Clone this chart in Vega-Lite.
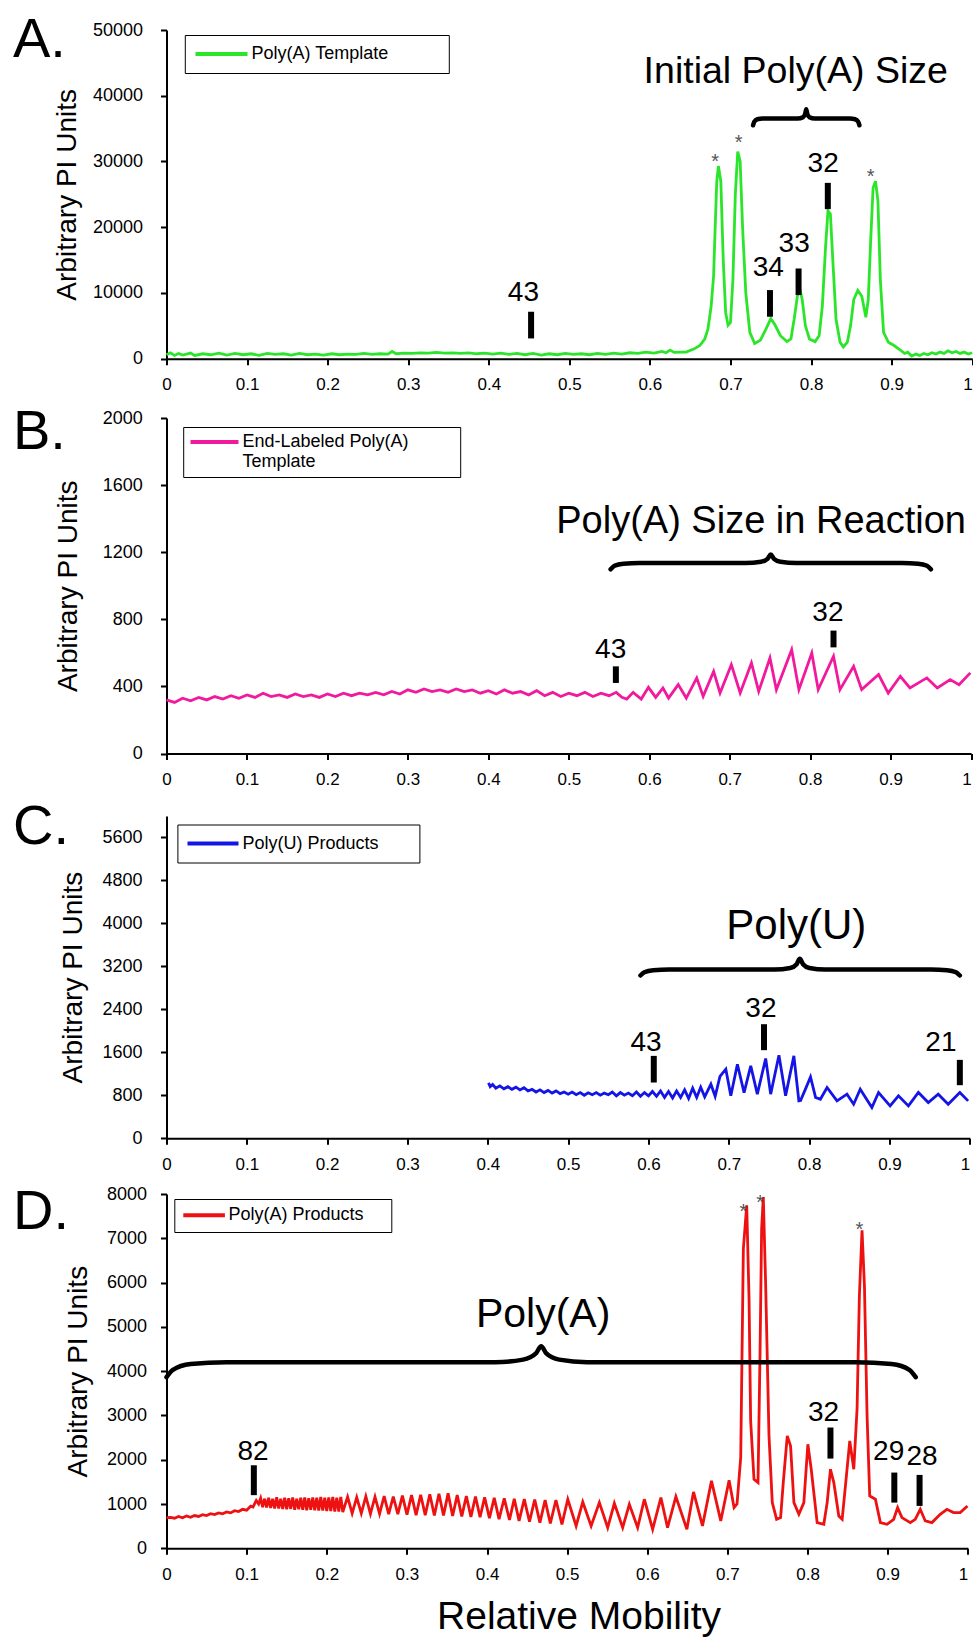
{
  "$schema": "https://vega.github.io/schema/vega-lite/v6.json",
  "padding": {"left": 12.5, "top": 11, "right": 0, "bottom": 0},
  "spacing": 10,
  "columns": 1,
  "align": "none",
  "resolve": {"scale": {"color": "independent"}, "legend": {"color": "independent"}},
  "config": {
    "font": "Liberation Sans",
    "view": {"stroke": null},
    "axis": {"grid": false, "domainColor": "#000", "tickColor": "#000", "domainWidth": 2, "tickWidth": 2, "tickSize": 6, "labelColor": "#000", "titleColor": "#000", "labelFont": "Liberation Sans", "titleFont": "Liberation Sans", "labelOverlap": false},
    "axisX": {"labelAlign": {"condition": {"test": "datum.value === 1", "value": "right"}, "value": "center"}},
    "legend": {"labelFont": "Liberation Sans", "labelColor": "#000"}
  },
  "datasets": {
    "traceA": [
      {"x":0,"y":600},{"x":0.005,"y":900},{"x":0.01,"y":500},{"x":0.015,"y":800},{"x":0.02,"y":550},{"x":0.03,"y":850},{"x":0.035,"y":500},{"x":0.045,"y":750},{"x":0.055,"y":600},{"x":0.065,"y":850},{"x":0.075,"y":550},{"x":0.085,"y":800},{"x":0.095,"y":600},{"x":0.105,"y":750},{"x":0.115,"y":500},{"x":0.125,"y":800},{"x":0.135,"y":650},{"x":0.145,"y":750},{"x":0.155,"y":550},{"x":0.165,"y":800},{"x":0.175,"y":600},{"x":0.185,"y":700},{"x":0.195,"y":550},{"x":0.205,"y":750},{"x":0.215,"y":600},{"x":0.225,"y":700},{"x":0.235,"y":650},{"x":0.245,"y":800},{"x":0.255,"y":650},{"x":0.265,"y":750},{"x":0.275,"y":700},{"x":0.28,"y":1100},{"x":0.285,"y":750},{"x":0.295,"y":850},{"x":0.305,"y":800},{"x":0.315,"y":900},{"x":0.325,"y":850},{"x":0.335,"y":950},{"x":0.345,"y":850},{"x":0.355,"y":900},{"x":0.365,"y":800},{"x":0.375,"y":900},{"x":0.385,"y":750},{"x":0.395,"y":850},{"x":0.405,"y":700},{"x":0.415,"y":850},{"x":0.425,"y":650},{"x":0.435,"y":800},{"x":0.445,"y":600},{"x":0.455,"y":800},{"x":0.465,"y":550},{"x":0.475,"y":750},{"x":0.485,"y":600},{"x":0.495,"y":800},{"x":0.505,"y":650},{"x":0.515,"y":750},{"x":0.525,"y":600},{"x":0.535,"y":800},{"x":0.545,"y":650},{"x":0.555,"y":850},{"x":0.565,"y":700},{"x":0.575,"y":900},{"x":0.585,"y":800},{"x":0.595,"y":1000},{"x":0.605,"y":850},{"x":0.615,"y":1100},{"x":0.62,"y":900},{"x":0.625,"y":1300},{"x":0.63,"y":950},{"x":0.64,"y":1000},{"x":0.645,"y":1000},{"x":0.655,"y":1500},{"x":0.662,"y":2000},{"x":0.668,"y":3000},{"x":0.672,"y":4500},{"x":0.676,"y":8000},{"x":0.679,"y":12500},{"x":0.681,"y":20000},{"x":0.683,"y":27000},{"x":0.685,"y":29300},{"x":0.688,"y":27000},{"x":0.691,"y":15000},{"x":0.694,"y":7000},{"x":0.697,"y":5100},{"x":0.7,"y":5500},{"x":0.703,"y":12000},{"x":0.706,"y":25000},{"x":0.709,"y":31500},{"x":0.712,"y":30000},{"x":0.715,"y":20000},{"x":0.719,"y":10000},{"x":0.724,"y":4000},{"x":0.73,"y":2300},{"x":0.737,"y":2800},{"x":0.744,"y":4500},{"x":0.75,"y":6100},{"x":0.755,"y":5200},{"x":0.762,"y":3500},{"x":0.77,"y":2600},{"x":0.775,"y":3000},{"x":0.779,"y":6000},{"x":0.783,"y":9500},{"x":0.786,"y":10600},{"x":0.789,"y":9000},{"x":0.793,"y":5000},{"x":0.798,"y":3000},{"x":0.805,"y":2600},{"x":0.81,"y":3500},{"x":0.814,"y":8000},{"x":0.818,"y":17000},{"x":0.821,"y":22500},{"x":0.824,"y":22000},{"x":0.827,"y":15000},{"x":0.831,"y":6000},{"x":0.836,"y":2500},{"x":0.84,"y":1800},{"x":0.845,"y":2500},{"x":0.849,"y":5000},{"x":0.853,"y":9000},{"x":0.858,"y":10400},{"x":0.863,"y":9500},{"x":0.868,"y":6300},{"x":0.871,"y":9000},{"x":0.874,"y":18000},{"x":0.877,"y":26000},{"x":0.88,"y":27000},{"x":0.883,"y":24000},{"x":0.886,"y":12000},{"x":0.89,"y":4000},{"x":0.896,"y":2500},{"x":0.903,"y":2000},{"x":0.91,"y":1400},{"x":0.916,"y":800},{"x":0.92,"y":1000},{"x":0.925,"y":400},{"x":0.93,"y":700},{"x":0.935,"y":500},{"x":0.94,"y":800},{"x":0.945,"y":600},{"x":0.95,"y":900},{"x":0.955,"y":700},{"x":0.96,"y":1000},{"x":0.965,"y":800},{"x":0.97,"y":1200},{"x":0.975,"y":900},{"x":0.98,"y":1100},{"x":0.985,"y":800},{"x":0.99,"y":1000},{"x":0.995,"y":700},{"x":1,"y":900}
    ],
    "ruleA": [{"x":0.4525,"y":3085,"y2":7143},{"x":0.749,"y":6383,"y2":10440},{"x":0.7845,"y":9681,"y2":13723},{"x":0.8208,"y":22750,"y2":26748}],
    "lblA": [{"x":0.443,"y":9924,"t":"43"},{"x":0.747,"y":13860,"t":"34"},{"x":0.779,"y":17520,"t":"33"},{"x":0.815,"y":29680,"t":"32"}],
    "starA": [{"x":0.681,"y":30850},{"x":0.71,"y":33740},{"x":0.874,"y":28520}],
    "braceA": [{"x":0.728,"y":35510},{"x":0.7296,"y":36065},{"x":0.7333,"y":36420},{"x":0.7399,"y":36520},{"x":0.7834,"y":36520},{"x":0.79,"y":36735},{"x":0.7927,"y":37235},{"x":0.794,"y":37950},{"x":0.7953,"y":37235},{"x":0.798,"y":36735},{"x":0.8046,"y":36520},{"x":0.8481,"y":36520},{"x":0.8547,"y":36420},{"x":0.8584,"y":36065},{"x":0.86,"y":35510}],
    "capA": [{"x":0.781,"y":41945,"t":"Initial Poly(A) Size"}],
    "letA": [{"x":-0.19052,"y":45900,"t":"A."}],
    "traceB": [
      {"x":0,"y":320},{"x":0.01,"y":305},{"x":0.02,"y":330},{"x":0.03,"y":315},{"x":0.04,"y":335},{"x":0.05,"y":320},{"x":0.06,"y":340},{"x":0.07,"y":325},{"x":0.08,"y":345},{"x":0.09,"y":330},{"x":0.1,"y":350},{"x":0.11,"y":335},{"x":0.12,"y":360},{"x":0.13,"y":340},{"x":0.14,"y":350},{"x":0.15,"y":335},{"x":0.16,"y":355},{"x":0.17,"y":340},{"x":0.18,"y":350},{"x":0.19,"y":335},{"x":0.2,"y":355},{"x":0.21,"y":340},{"x":0.22,"y":360},{"x":0.23,"y":345},{"x":0.24,"y":360},{"x":0.25,"y":350},{"x":0.26,"y":365},{"x":0.27,"y":350},{"x":0.28,"y":370},{"x":0.29,"y":355},{"x":0.3,"y":380},{"x":0.31,"y":365},{"x":0.32,"y":385},{"x":0.33,"y":370},{"x":0.34,"y":380},{"x":0.35,"y":365},{"x":0.36,"y":385},{"x":0.37,"y":370},{"x":0.38,"y":380},{"x":0.39,"y":360},{"x":0.4,"y":375},{"x":0.41,"y":355},{"x":0.42,"y":380},{"x":0.43,"y":360},{"x":0.44,"y":370},{"x":0.45,"y":350},{"x":0.46,"y":375},{"x":0.47,"y":345},{"x":0.48,"y":365},{"x":0.49,"y":340},{"x":0.5,"y":360},{"x":0.51,"y":345},{"x":0.52,"y":365},{"x":0.53,"y":340},{"x":0.54,"y":360},{"x":0.55,"y":345},{"x":0.559,"y":365},{"x":0.566,"y":335},{"x":0.572,"y":325},{"x":0.58,"y":365},{"x":0.59,"y":325},{"x":0.599,"y":395},{"x":0.608,"y":335},{"x":0.617,"y":391},{"x":0.624,"y":331},{"x":0.636,"y":411},{"x":0.646,"y":331},{"x":0.659,"y":451},{"x":0.667,"y":341},{"x":0.68,"y":490},{"x":0.688,"y":361},{"x":0.702,"y":530},{"x":0.713,"y":361},{"x":0.727,"y":540},{"x":0.736,"y":371},{"x":0.75,"y":570},{"x":0.758,"y":381},{"x":0.777,"y":619},{"x":0.786,"y":381},{"x":0.802,"y":599},{"x":0.81,"y":381},{"x":0.829,"y":580},{"x":0.837,"y":381},{"x":0.854,"y":520},{"x":0.864,"y":381},{"x":0.885,"y":471},{"x":0.897,"y":361},{"x":0.912,"y":461},{"x":0.924,"y":391},{"x":0.945,"y":451},{"x":0.958,"y":391},{"x":0.974,"y":441},{"x":0.985,"y":411},{"x":0.999,"y":481}
    ],
    "ruleB": [{"x":0.5585,"y":421,"y2":520},{"x":0.829,"y":633,"y2":733}],
    "lblB": [{"x":0.552,"y":620,"t":"43"},{"x":0.822,"y":838,"t":"32"}],
    "braceB": [{"x":0.552,"y":1098},{"x":0.5568,"y":1119},{"x":0.5679,"y":1132},{"x":0.5878,"y":1136},{"x":0.7192,"y":1136},{"x":0.7391,"y":1143.5},{"x":0.747,"y":1161},{"x":0.751,"y":1186},{"x":0.755,"y":1161},{"x":0.7629,"y":1143.5},{"x":0.7828,"y":1136},{"x":0.9142,"y":1136},{"x":0.9341,"y":1132},{"x":0.9452,"y":1119},{"x":0.95,"y":1098}],
    "capB": [{"x":0.739,"y":1315,"t":"Poly(A) Size in Reaction"}],
    "letB": [{"x":-0.19078,"y":1816,"t":"B."}],
    "traceC": [
      {"x":0.4008,"y":1030},{"x":0.403,"y":960},{"x":0.406,"y":1000},{"x":0.41,"y":930},{"x":0.415,"y":975},{"x":0.42,"y":920},{"x":0.425,"y":960},{"x":0.43,"y":910},{"x":0.435,"y":950},{"x":0.44,"y":900},{"x":0.445,"y":940},{"x":0.45,"y":880},{"x":0.455,"y":910},{"x":0.46,"y":860},{"x":0.465,"y":900},{"x":0.47,"y":850},{"x":0.475,"y":890},{"x":0.48,"y":840},{"x":0.485,"y":880},{"x":0.49,"y":830},{"x":0.495,"y":860},{"x":0.5,"y":820},{"x":0.505,"y":860},{"x":0.51,"y":810},{"x":0.515,"y":850},{"x":0.52,"y":800},{"x":0.525,"y":845},{"x":0.53,"y":810},{"x":0.535,"y":850},{"x":0.54,"y":800},{"x":0.545,"y":840},{"x":0.55,"y":810},{"x":0.555,"y":860},{"x":0.56,"y":790},{"x":0.565,"y":850},{"x":0.57,"y":800},{"x":0.575,"y":840},{"x":0.58,"y":790},{"x":0.585,"y":860},{"x":0.59,"y":780},{"x":0.595,"y":850},{"x":0.6,"y":790},{"x":0.605,"y":870},{"x":0.61,"y":780},{"x":0.615,"y":880},{"x":0.62,"y":760},{"x":0.625,"y":870},{"x":0.63,"y":750},{"x":0.635,"y":880},{"x":0.64,"y":760},{"x":0.645,"y":900},{"x":0.65,"y":740},{"x":0.655,"y":930},{"x":0.66,"y":760},{"x":0.665,"y":950},{"x":0.67,"y":770},{"x":0.6777,"y":1006},{"x":0.683,"y":780},{"x":0.689,"y":1150},{"x":0.6963,"y":1285},{"x":0.7025,"y":790},{"x":0.7107,"y":1378},{"x":0.719,"y":850},{"x":0.7273,"y":1347},{"x":0.7355,"y":820},{"x":0.7459,"y":1484},{"x":0.7521,"y":820},{"x":0.7624,"y":1546},{"x":0.7707,"y":790},{"x":0.781,"y":1533},{"x":0.7872,"y":695},{"x":0.7893,"y":700},{"x":0.795,"y":900},{"x":0.8017,"y":1140},{"x":0.808,"y":760},{"x":0.814,"y":726},{"x":0.8223,"y":944},{"x":0.8347,"y":695},{"x":0.8471,"y":820},{"x":0.8554,"y":633},{"x":0.8636,"y":913},{"x":0.8781,"y":571},{"x":0.8864,"y":851},{"x":0.9008,"y":602},{"x":0.9112,"y":788},{"x":0.9236,"y":602},{"x":0.936,"y":851},{"x":0.9483,"y":664},{"x":0.9607,"y":820},{"x":0.9731,"y":633},{"x":0.9876,"y":851},{"x":0.9979,"y":695}
    ],
    "ruleC": [{"x":0.6066,"y":1037,"y2":1533},{"x":0.7438,"y":1639,"y2":2123},{"x":0.9876,"y":987,"y2":1459}],
    "lblC": [{"x":0.597,"y":1769,"t":"43"},{"x":0.74,"y":2415,"t":"32"},{"x":0.964,"y":1769,"t":"21"}],
    "braceC": [{"x":0.59,"y":3030},{"x":0.5948,"y":3090},{"x":0.6059,"y":3129},{"x":0.6258,"y":3140},{"x":0.7566,"y":3140},{"x":0.7765,"y":3170},{"x":0.7844,"y":3240},{"x":0.7884,"y":3340},{"x":0.7924,"y":3240},{"x":0.8003,"y":3170},{"x":0.8202,"y":3140},{"x":0.9518,"y":3140},{"x":0.9717,"y":3129},{"x":0.9828,"y":3090},{"x":0.9876,"y":3030}],
    "capC": [{"x":0.784,"y":3706,"t":"Poly(U)"}],
    "letC": [{"x":-0.19109,"y":5482,"t":"C."}],
    "traceD": [
      {"x":0,"y":690},{"x":0.005,"y":700},{"x":0.01,"y":680},{"x":0.015,"y":720},{"x":0.02,"y":690},{"x":0.025,"y":730},{"x":0.03,"y":700},{"x":0.035,"y":740},{"x":0.04,"y":720},{"x":0.045,"y":760},{"x":0.05,"y":740},{"x":0.055,"y":780},{"x":0.06,"y":760},{"x":0.065,"y":800},{"x":0.07,"y":780},{"x":0.075,"y":820},{"x":0.08,"y":800},{"x":0.085,"y":850},{"x":0.09,"y":830},{"x":0.095,"y":880},{"x":0.1,"y":860},{"x":0.105,"y":950},{"x":0.108,"y":930},{"x":0.112,"y":1080},{"x":0.115,"y":1000},
      {"x":0.1175,"y":1130},{"x":0.12,"y":930},{"x":0.1225,"y":1120},{"x":0.125,"y":920},{"x":0.1275,"y":1140},{"x":0.13,"y":910},{"x":0.1325,"y":1120},{"x":0.135,"y":900},{"x":0.1375,"y":1150},{"x":0.14,"y":900},{"x":0.1425,"y":1120},{"x":0.145,"y":890},{"x":0.1475,"y":1140},{"x":0.15,"y":880},{"x":0.1525,"y":1130},{"x":0.155,"y":890},{"x":0.1575,"y":1150},{"x":0.16,"y":870},{"x":0.1625,"y":1120},{"x":0.165,"y":880},{"x":0.1675,"y":1140},{"x":0.17,"y":870},{"x":0.1725,"y":1150},{"x":0.175,"y":860},{"x":0.1775,"y":1130},{"x":0.18,"y":870},{"x":0.1825,"y":1150},{"x":0.185,"y":860},{"x":0.1875,"y":1140},{"x":0.19,"y":850},{"x":0.1925,"y":1160},{"x":0.195,"y":850},{"x":0.1975,"y":1140},{"x":0.2,"y":840},{"x":0.2025,"y":1150},{"x":0.205,"y":840},{"x":0.2075,"y":1160},{"x":0.21,"y":830},{"x":0.2125,"y":1140},{"x":0.215,"y":830},{"x":0.2175,"y":1160},{"x":0.22,"y":820},
      {"x":0.226,"y":1160},{"x":0.2317,"y":790},{"x":0.2374,"y":1150},{"x":0.2431,"y":790},{"x":0.2488,"y":1170},{"x":0.2545,"y":780},{"x":0.2602,"y":1160},{"x":0.2659,"y":780},{"x":0.2716,"y":1180},{"x":0.2773,"y":770},{"x":0.283,"y":1170},{"x":0.2887,"y":770},{"x":0.2944,"y":1190},{"x":0.3001,"y":760},{"x":0.3058,"y":1200},{"x":0.3115,"y":750},{"x":0.3172,"y":1210},{"x":0.3229,"y":750},{"x":0.3286,"y":1220},{"x":0.3343,"y":740},{"x":0.34,"y":1230},{"x":0.3457,"y":740},{"x":0.3514,"y":1240},{"x":0.3571,"y":730},{"x":0.3628,"y":1200},{"x":0.3685,"y":720},{"x":0.3742,"y":1180},{"x":0.3799,"y":710},{"x":0.3856,"y":1170},{"x":0.3913,"y":700},{"x":0.397,"y":1150},{"x":0.403,"y":680},{"x":0.409,"y":1140},{"x":0.415,"y":660},{"x":0.4215,"y":1130},{"x":0.428,"y":640},{"x":0.434,"y":1120},{"x":0.44,"y":620},{"x":0.4465,"y":1110},{"x":0.453,"y":600},{"x":0.4595,"y":1100},{"x":0.466,"y":580},{"x":0.4725,"y":1090},{"x":0.479,"y":560},{"x":0.486,"y":1090},{"x":0.4935,"y":540},
      {"x":0.5008,"y":1108},{"x":0.5112,"y":505},{"x":0.5195,"y":1047},{"x":0.5299,"y":505},{"x":0.5402,"y":1032},{"x":0.5506,"y":467},{"x":0.5589,"y":1017},{"x":0.5693,"y":467},{"x":0.5776,"y":994},{"x":0.588,"y":467},{"x":0.5963,"y":1108},{"x":0.6067,"y":430},{"x":0.617,"y":1145},{"x":0.6253,"y":467},{"x":0.6357,"y":1168},{"x":0.6494,"y":430},{"x":0.6577,"y":1273},{"x":0.6689,"y":505},{"x":0.6801,"y":1522},{"x":0.6917,"y":618},{"x":0.7021,"y":1537},{"x":0.7083,"y":919},{"x":0.712,"y":1000},{"x":0.7166,"y":2049},{"x":0.7199,"y":6765},{"x":0.7241,"y":7744},{"x":0.727,"y":5635},{"x":0.729,"y":2878},{"x":0.7332,"y":1559},{"x":0.7382,"y":1484},{"x":0.7407,"y":4391},{"x":0.7427,"y":7217},{"x":0.7448,"y":7932},{"x":0.7477,"y":5974},{"x":0.7519,"y":2538},{"x":0.756,"y":1032},{"x":0.7614,"y":655},{"x":0.7664,"y":693},{"x":0.7697,"y":1484},{"x":0.7747,"y":2538},{"x":0.7788,"y":2312},{"x":0.783,"y":1032},{"x":0.7892,"y":768},{"x":0.7954,"y":1032},{"x":0.8004,"y":2350},{"x":0.8046,"y":1785},{"x":0.812,"y":580},{"x":0.8203,"y":542},{"x":0.8245,"y":1032},{"x":0.8286,"y":1785},{"x":0.8328,"y":1484},{"x":0.839,"y":730},{"x":0.8432,"y":655},{"x":0.8485,"y":1635},{"x":0.8527,"y":2425},{"x":0.8577,"y":1785},{"x":0.8618,"y":3141},{"x":0.8647,"y":5702},{"x":0.868,"y":7179},{"x":0.871,"y":5938},{"x":0.8743,"y":2990},{"x":0.8776,"y":1183},{"x":0.8847,"y":1108},{"x":0.8909,"y":580},{"x":0.8992,"y":542},{"x":0.9075,"y":655},{"x":0.9124,"y":919},{"x":0.9178,"y":693},{"x":0.9282,"y":580},{"x":0.9344,"y":655},{"x":0.9407,"y":881},{"x":0.9469,"y":618},{"x":0.9552,"y":580},{"x":0.9656,"y":768},{"x":0.9739,"y":881},{"x":0.9822,"y":806},{"x":0.9905,"y":806},{"x":0.9996,"y":957}
    ],
    "ruleD": [{"x":0.109,"y":1200,"y2":1875},{"x":0.8286,"y":2026,"y2":2727},{"x":0.9083,"y":1032,"y2":1710},{"x":0.9398,"y":957,"y2":1657}],
    "lblD": [{"x":0.108,"y":2175,"t":"82"},{"x":0.82,"y":3065,"t":"32"},{"x":0.9012,"y":2170,"t":"29"},{"x":0.943,"y":2055,"t":"28"}],
    "starD": [{"x":0.72,"y":7729},{"x":0.7407,"y":7932},{"x":0.8647,"y":7330}],
    "braceD": [{"x":0,"y":3864},{"x":0.008,"y":4030},{"x":0.03,"y":4160},{"x":0.075,"y":4203},{"x":0.41,"y":4203},{"x":0.445,"y":4260},{"x":0.461,"y":4400},{"x":0.4676,"y":4565},{"x":0.474,"y":4400},{"x":0.49,"y":4260},{"x":0.525,"y":4203},{"x":0.86,"y":4203},{"x":0.905,"y":4160},{"x":0.927,"y":4030},{"x":0.935,"y":3864}],
    "capD": [{"x":0.47,"y":4990,"t":"Poly(A)"}],
    "letD": [{"x":-0.19156,"y":7210,"t":"D."}]
  },
  "concat": [
    {
      "width": 805.7, "height": 328.7,
      "layer": [
        {
          "data": {"name": "traceA"},
          "mark": {"type": "line", "strokeWidth": 2.8},
          "encoding": {
            "x": {"field": "x", "type": "quantitative", "title": null, "scale": {"domain": [0, 1], "nice": false, "zero": false},
                  "axis": {"values": [0,0.1,0.2,0.3,0.4,0.5,0.6,0.7,0.8,0.9,1], "format": "~g", "labelFontSize": 17, "labelPadding": 12, "labelFlush": false, "labelOverlap": false}},
            "y": {"field": "y", "type": "quantitative", "title": "Arbitrary PI Units", "scale": {"domain": [0, 50000], "nice": false},
                  "axis": {"values": [0,10000,20000,30000,40000,50000], "format": "d", "labelFontSize": 18, "labelPadding": 18, "labelOverlap": false, "titleFontSize": 28, "titleFontWeight": "normal", "titleX": -99.3, "titleBaseline": "middle", "titleAngle": 270}},
            "color": {"datum": "Poly(A) Template", "type": "nominal", "scale": {"range": ["#2BE52B"]},
                      "legend": {"title": null, "orient": "none", "legendX": 18.3, "legendY": 5, "strokeColor": "#000", "fillColor": "#fff", "padding": 10, "symbolType": "M-1.66,0H8.74", "symbolSize": 100, "symbolStrokeWidth": 4, "labelOffset": 38.7, "labelFontSize": 18, "labelLimit": 500, "labelExpr": "'Poly(A) Template\u00a0\u00a0\u00a0\u00a0\u00a0\u00a0\u00a0\u00a0\u00a0\u00a0\u200b'"}}
          }
        },
        {"data": {"name": "ruleA"}, "mark": {"type": "rule", "strokeWidth": 6, "color": "#000"},
         "encoding": {"x": {"field": "x", "type": "quantitative", "title": null}, "y": {"field": "y", "type": "quantitative", "title": "Arbitrary PI Units"}, "y2": {"field": "y2"}}},
        {"data": {"name": "lblA"}, "mark": {"type": "text", "fontSize": 28, "baseline": "middle", "color": "#000"},
         "encoding": {"x": {"field": "x", "type": "quantitative", "title": null}, "y": {"field": "y", "type": "quantitative", "title": "Arbitrary PI Units"}, "text": {"field": "t"}}},
        {"data": {"name": "starA"}, "mark": {"type": "text", "fontSize": 20, "baseline": "middle", "color": "#555", "dy": 6, "text": "*"},
         "encoding": {"x": {"field": "x", "type": "quantitative", "title": null}, "y": {"field": "y", "type": "quantitative", "title": "Arbitrary PI Units"}}},
        {"data": {"name": "braceA"}, "mark": {"type": "line", "color": "#000", "strokeWidth": 4.5, "interpolate": "monotone", "strokeCap": "round"},
         "encoding": {"x": {"field": "x", "type": "quantitative", "title": null}, "y": {"field": "y", "type": "quantitative", "title": "Arbitrary PI Units"}}},
        {"data": {"name": "capA"}, "mark": {"type": "text", "fontSize": 37.5, "baseline": "alphabetic", "color": "#000"},
         "encoding": {"x": {"field": "x", "type": "quantitative", "title": null}, "y": {"field": "y", "type": "quantitative", "title": "Arbitrary PI Units"}, "text": {"field": "t"}}},
        {"data": {"name": "letA"}, "mark": {"type": "text", "fontSize": 56, "baseline": "alphabetic", "align": "left", "color": "#000"},
         "encoding": {"x": {"field": "x", "type": "quantitative", "title": null}, "y": {"field": "y", "type": "quantitative", "title": "Arbitrary PI Units"}, "text": {"field": "t"}}}
      ]
    },
    {
      "width": 804.6, "height": 335.6,
      "layer": [
        {
          "data": {"name": "traceB"},
          "mark": {"type": "line", "strokeWidth": 2.8},
          "encoding": {
            "x": {"field": "x", "type": "quantitative", "title": null, "scale": {"domain": [0, 1], "nice": false, "zero": false},
                  "axis": {"values": [0,0.1,0.2,0.3,0.4,0.5,0.6,0.7,0.8,0.9,1], "format": "~g", "labelFontSize": 17, "labelPadding": 12, "labelFlush": false, "labelOverlap": false}},
            "y": {"field": "y", "type": "quantitative", "title": "Arbitrary PI Units", "scale": {"domain": [0, 2000], "nice": false},
                  "axis": {"values": [0,200,400,600,800,1000,1200,1400,1600,1800,2000], "format": "d", "labelFontSize": 18, "labelPadding": 18.3, "labelOverlap": false, "titleFontSize": 28, "titleFontWeight": "normal", "titleX": -97.7, "titleBaseline": "middle", "titleAngle": 270}},
            "color": {"datum": "End-Labeled Poly(A) Template", "type": "nominal", "scale": {"range": ["#F21A9C"]},
                      "legend": {"title": null, "orient": "none", "legendX": 16.7, "legendY": 9, "strokeColor": "#000", "fillColor": "#fff", "padding": 6, "symbolType": "M-1.54,0H8.06", "symbolSize": 100, "symbolStrokeWidth": 4, "labelOffset": 35.3, "labelFontSize": 18, "labelLimit": 500, "labelExpr": "['End-Labeled Poly(A)\u00a0\u00a0\u00a0\u00a0\u00a0\u00a0\u00a0\u00a0\u00a0\u200b', 'Template']"}}
          }
        },
        {"data": {"name": "ruleB"}, "mark": {"type": "rule", "strokeWidth": 6, "color": "#000"},
         "encoding": {"x": {"field": "x", "type": "quantitative", "title": null}, "y": {"field": "y", "type": "quantitative", "title": "Arbitrary PI Units"}, "y2": {"field": "y2"}}},
        {"data": {"name": "lblB"}, "mark": {"type": "text", "fontSize": 28, "baseline": "middle", "color": "#000"},
         "encoding": {"x": {"field": "x", "type": "quantitative", "title": null}, "y": {"field": "y", "type": "quantitative", "title": "Arbitrary PI Units"}, "text": {"field": "t"}}},
        {"data": {"name": "braceB"}, "mark": {"type": "line", "color": "#000", "strokeWidth": 4.5, "interpolate": "monotone", "strokeCap": "round"},
         "encoding": {"x": {"field": "x", "type": "quantitative", "title": null}, "y": {"field": "y", "type": "quantitative", "title": "Arbitrary PI Units"}}},
        {"data": {"name": "capB"}, "mark": {"type": "text", "fontSize": 38, "baseline": "alphabetic", "color": "#000"},
         "encoding": {"x": {"field": "x", "type": "quantitative", "title": null}, "y": {"field": "y", "type": "quantitative", "title": "Arbitrary PI Units"}, "text": {"field": "t"}}},
        {"data": {"name": "letB"}, "mark": {"type": "text", "fontSize": 56, "baseline": "alphabetic", "align": "left", "color": "#000"},
         "encoding": {"x": {"field": "x", "type": "quantitative", "title": null}, "y": {"field": "y", "type": "quantitative", "title": "Arbitrary PI Units"}, "text": {"field": "t"}}}
      ]
    },
    {
      "width": 803.3, "height": 322.2,
      "layer": [
        {
          "data": {"name": "traceC"},
          "mark": {"type": "line", "strokeWidth": 2.8},
          "encoding": {
            "x": {"field": "x", "type": "quantitative", "title": null, "scale": {"domain": [0, 1], "nice": false, "zero": false},
                  "axis": {"values": [0,0.1,0.2,0.3,0.4,0.5,0.6,0.7,0.8,0.9,1], "format": "~g", "labelFontSize": 17, "labelPadding": 12, "labelFlush": false, "labelOverlap": false}},
            "y": {"field": "y", "type": "quantitative", "title": "Arbitrary PI Units", "scale": {"domain": [0, 6000], "nice": false},
                  "axis": {"values": [0,800,1600,2400,3200,4000,4800,5600], "format": "d", "labelFontSize": 18, "labelPadding": 18.5, "labelOverlap": false, "titleFontSize": 28, "titleFontWeight": "normal", "titleX": -93, "titleBaseline": "middle", "titleAngle": 270}},
            "color": {"datum": "Poly(U) Products", "type": "nominal", "scale": {"range": ["#1414E6"]},
                      "legend": {"title": null, "orient": "none", "legendX": 10.9, "legendY": 8.5, "strokeColor": "#000", "fillColor": "#fff", "padding": 10, "symbolType": "M-1.78,0H8.42", "symbolSize": 100, "symbolStrokeWidth": 4, "labelOffset": 37.1, "labelFontSize": 18, "labelLimit": 500, "labelExpr": "'Poly(U) Products\u00a0\u00a0\u00a0\u00a0\u00a0\u00a0\u200b'"}}
          }
        },
        {"data": {"name": "ruleC"}, "mark": {"type": "rule", "strokeWidth": 6, "color": "#000"},
         "encoding": {"x": {"field": "x", "type": "quantitative", "title": null}, "y": {"field": "y", "type": "quantitative", "title": "Arbitrary PI Units"}, "y2": {"field": "y2"}}},
        {"data": {"name": "lblC"}, "mark": {"type": "text", "fontSize": 28, "baseline": "middle", "color": "#000"},
         "encoding": {"x": {"field": "x", "type": "quantitative", "title": null}, "y": {"field": "y", "type": "quantitative", "title": "Arbitrary PI Units"}, "text": {"field": "t"}}},
        {"data": {"name": "braceC"}, "mark": {"type": "line", "color": "#000", "strokeWidth": 4.5, "interpolate": "monotone", "strokeCap": "round"},
         "encoding": {"x": {"field": "x", "type": "quantitative", "title": null}, "y": {"field": "y", "type": "quantitative", "title": "Arbitrary PI Units"}}},
        {"data": {"name": "capC"}, "mark": {"type": "text", "fontSize": 42, "baseline": "alphabetic", "color": "#000"},
         "encoding": {"x": {"field": "x", "type": "quantitative", "title": null}, "y": {"field": "y", "type": "quantitative", "title": "Arbitrary PI Units"}, "text": {"field": "t"}}},
        {"data": {"name": "letC"}, "mark": {"type": "text", "fontSize": 56, "baseline": "alphabetic", "align": "left", "color": "#000"},
         "encoding": {"x": {"field": "x", "type": "quantitative", "title": null}, "y": {"field": "y", "type": "quantitative", "title": "Arbitrary PI Units"}, "text": {"field": "t"}}}
      ]
    },
    {
      "width": 801.3, "height": 354.3,
      "layer": [
        {
          "data": {"name": "traceD"},
          "mark": {"type": "line", "strokeWidth": 2.8},
          "encoding": {
            "x": {"field": "x", "type": "quantitative", "title": "Relative Mobility", "scale": {"domain": [0, 1], "nice": false, "zero": false},
                  "axis": {"values": [0,0.1,0.2,0.3,0.4,0.5,0.6,0.7,0.8,0.9,1], "format": "~g", "labelFontSize": 17, "labelPadding": 12, "labelFlush": false, "labelOverlap": false, "titleFontSize": 39, "titleFontWeight": "normal", "titleX": 412, "titleY": 80, "titleBaseline": "alphabetic", "titleAlign": "center"}},
            "y": {"field": "y", "type": "quantitative", "title": "Arbitrary PI Units", "scale": {"domain": [0, 8000], "nice": false},
                  "axis": {"values": [0,1000,2000,3000,4000,5000,6000,7000,8000], "format": "d", "labelFontSize": 18, "labelPadding": 14, "labelOverlap": false, "titleFontSize": 28, "titleFontWeight": "normal", "titleX": -88.5, "titleBaseline": "middle", "titleAngle": 270}},
            "color": {"datum": "Poly(A) Products", "type": "nominal", "scale": {"range": ["#EE1111"]},
                      "legend": {"title": null, "orient": "none", "legendX": 7.8, "legendY": 5, "strokeColor": "#000", "fillColor": "#fff", "padding": 7.3, "symbolType": "M-1.46,0H6.86", "symbolSize": 100, "symbolStrokeWidth": 4, "labelOffset": 28.9, "labelFontSize": 18, "labelLimit": 500, "labelExpr": "'Poly(A) Products\u00a0\u00a0\u00a0\u00a0\u200b'"}}
          }
        },
        {"data": {"name": "ruleD"}, "mark": {"type": "rule", "strokeWidth": 6, "color": "#000"},
         "encoding": {"x": {"field": "x", "type": "quantitative", "title": "Relative Mobility"}, "y": {"field": "y", "type": "quantitative", "title": "Arbitrary PI Units"}, "y2": {"field": "y2"}}},
        {"data": {"name": "lblD"}, "mark": {"type": "text", "fontSize": 28, "baseline": "middle", "color": "#000"},
         "encoding": {"x": {"field": "x", "type": "quantitative", "title": "Relative Mobility"}, "y": {"field": "y", "type": "quantitative", "title": "Arbitrary PI Units"}, "text": {"field": "t"}}},
        {"data": {"name": "starD"}, "mark": {"type": "text", "fontSize": 20, "baseline": "middle", "color": "#555", "dy": 6, "text": "*"},
         "encoding": {"x": {"field": "x", "type": "quantitative", "title": "Relative Mobility"}, "y": {"field": "y", "type": "quantitative", "title": "Arbitrary PI Units"}}},
        {"data": {"name": "braceD"}, "mark": {"type": "line", "color": "#000", "strokeWidth": 4.5, "interpolate": "monotone", "strokeCap": "round"},
         "encoding": {"x": {"field": "x", "type": "quantitative", "title": "Relative Mobility"}, "y": {"field": "y", "type": "quantitative", "title": "Arbitrary PI Units"}}},
        {"data": {"name": "capD"}, "mark": {"type": "text", "fontSize": 41, "baseline": "alphabetic", "color": "#000"},
         "encoding": {"x": {"field": "x", "type": "quantitative", "title": "Relative Mobility"}, "y": {"field": "y", "type": "quantitative", "title": "Arbitrary PI Units"}, "text": {"field": "t"}}},
        {"data": {"name": "letD"}, "mark": {"type": "text", "fontSize": 56, "baseline": "alphabetic", "align": "left", "color": "#000"},
         "encoding": {"x": {"field": "x", "type": "quantitative", "title": "Relative Mobility"}, "y": {"field": "y", "type": "quantitative", "title": "Arbitrary PI Units"}, "text": {"field": "t"}}}
      ]
    }
  ]
}
